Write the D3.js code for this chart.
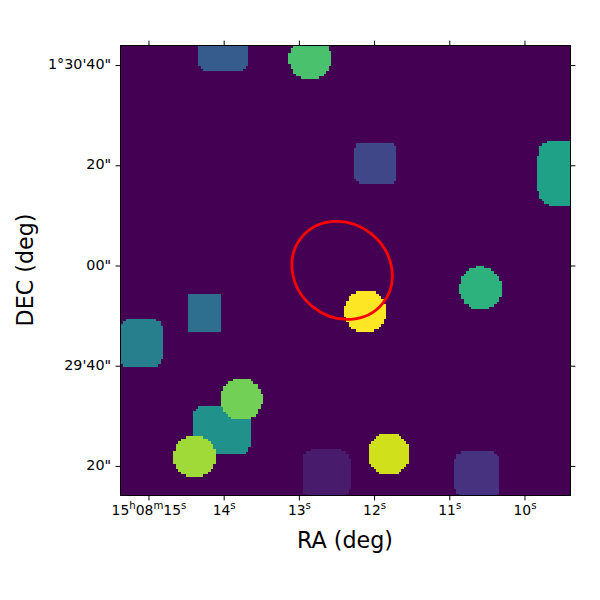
<!DOCTYPE html>
<html>
<head>
<meta charset="utf-8">
<script src="https://cdn.jsdelivr.net/npm/d3@7"></script>
<style>
body { margin: 0; background: #fff; }
text { font-family: "DejaVu Sans", sans-serif; fill: #000; }
</style>
</head>
<body>
<div id="chart"></div>
<script>
// Tick positions: RA in seconds past 15h08m, DEC in arcsec from 1d30m00s
var raTicks = [15, 14, 13, 12, 11, 10];
var raTickLabels = ['15h08m15s', '14s', '13s', '12s', '11s', '10s'];
var decTicks = [40, 20, 0, -20, -40];
var decTickLabels = ['1°30\'40"', '20"', '00"', '29\'40"', '20"'];

// Segmentation map sources, label order is the draw order
var sourceLabel = [1, 2, 3, 4, 5, 6, 7, 8, 9, 10, 11, 12, 13, 14];
var sourceRa = [12.633, 10.632, 11.981, 14.003, 14.249, 15.1, 14.023, 9.382, 10.585, 12.852, 13.763, 14.388, 11.802, 12.115];
var sourceDec = [-41.6, -41.8, 20.46, 43.8, -9.38, -15.47, -32.83, 18.46, -4.49, 41.4, -26.65, -38.12, -37.62, -9.08];
var sourceHalfW = [4.7, 4.4, 4.3, 4.9, 3.4, 4.2, 5.6, 6.6, 4.2, 4.2, 4.2, 4.2, 4.2, 4.2];
var sourceHalfH = [4.8, 4.6, 4.0, 4.9, 3.7, 4.7, 4.9, 6.4, 4.2, 4.2, 4.2, 4.2, 4.2, 4.2];
var sourceCorner = [2, 2, 1.6, 1.8, 0.6, 1.8, 2, 2.8, 4.2, 4.2, 4.2, 4.2, 4.2, 4.2];

// Red region: centre, semi axes (arcsec), tilt (deg)
var regionRa = 12.425;
var regionDec = -0.98;
var regionA = 10.43;
var regionB = 9.34;
var regionAngle = 38.7;

var raLeft = 15.372, raRight = 9.388;
var decTop = 43.9, decBottom = -45.9;
var pixelScale = 0.5; // arcsec per image pixel
var nPix = 180;

var svg = d3.select('#chart').append('svg')
    .attr('width', 600)
    .attr('height', 600);

var x = d3.scaleLinear().domain([raLeft, raRight]).range([120.5, 570.5]);
var y = d3.scaleLinear().domain([decTop, decBottom]).range([45.5, 495.5]);
var color = d3.scaleSequential(d3.interpolateViridis).domain([0, 14]);

svg.append('clipPath').attr('id', 'frame')
    .append('rect')
    .attr('x', x(raLeft)).attr('y', y(decTop))
    .attr('width', x(raRight) - x(raLeft))
    .attr('height', y(decBottom) - y(decTop));

var plot = svg.append('g').attr('clip-path', 'url(#frame)');

// background of the map is label 0
plot.append('rect')
    .attr('x', x(raLeft)).attr('y', y(decTop))
    .attr('width', x(raRight) - x(raLeft))
    .attr('height', y(decBottom) - y(decTop))
    .attr('fill', color(0));

function insideSource(i, dx, dy) {
    var w = sourceHalfW[i], h = sourceHalfH[i], c = sourceCorner[i];
    var ax = Math.abs(dx), ay = Math.abs(dy);
    if (ax > w || ay > h) return false;
    var ox = ax - (w - c), oy = ay - (h - c);
    if (ox <= 0 || oy <= 0) return true;
    return ox * ox + oy * oy <= c * c;
}

// Rasterize sources on the image grid, merging each row into runs
var runs = [];
sourceLabel.forEach(function (label, i) {
    d3.range(nPix).forEach(function (row) {
        var dec = decTop - (row + 0.5) * pixelScale;
        var start = -1;
        d3.range(nPix + 1).forEach(function (col) {
            var ra = raLeft - (col + 0.5) * pixelScale / 15;
            var hit = col < nPix && insideSource(i, (ra - sourceRa[i]) * 15, dec - sourceDec[i]);
            if (hit && start < 0) start = col;
            if (!hit && start >= 0) {
                runs.push({ label: label, row: row, start: start, end: col });
                start = -1;
            }
        });
    });
});

plot.selectAll('rect.cell')
    .data(runs)
    .enter().append('rect')
    .attr('class', 'cell')
    .attr('shape-rendering', 'crispEdges')
    .attr('x', function (d) { return x(raLeft - d.start * pixelScale / 15); })
    .attr('y', function (d) { return y(decTop - d.row * pixelScale); })
    .attr('width', function (d) { return x(raLeft - d.end * pixelScale / 15) - x(raLeft - d.start * pixelScale / 15); })
    .attr('height', y(decTop - pixelScale) - y(decTop) + 0.5)
    .attr('fill', function (d) { return color(d.label); });

// Red ellipse
svg.append('ellipse')
    .attr('cx', x(regionRa))
    .attr('cy', y(regionDec))
    .attr('rx', y(decTop - regionA) - y(decTop))
    .attr('ry', y(decTop - regionB) - y(decTop))
    .attr('transform', 'rotate(' + regionAngle + ' ' + x(regionRa) + ' ' + y(regionDec) + ')')
    .attr('fill', 'none')
    .attr('stroke', '#ff0000')
    .attr('stroke-width', 2.8);

// Axes on all four sides, labels only bottom and left
function styleAxis(g) {
    g.selectAll('.domain').remove();
    g.selectAll('.tick line').attr('stroke', '#000').attr('stroke-width', 1);
    g.selectAll('.tick text').attr('font-size', 13.9);
}

var raLabel = d3.scaleOrdinal().domain(raTicks).range(raTickLabels);
var decLabel = d3.scaleOrdinal().domain(decTicks).range(decTickLabels);

var bottom = svg.append('g')
    .attr('transform', 'translate(0,' + y(decBottom) + ')')
    .call(d3.axisBottom(x).tickValues(raTicks).tickSize(4.9).tickPadding(4.5).tickFormat(function () { return ''; }))
    .call(styleAxis);

// h, m and s are raised like the original tick labels
bottom.selectAll('.tick text').each(function (d) {
    var t = d3.select(this);
    var parts = raLabel(d).match(/\d+|[hms]/g);
    parts.forEach(function (p, i) {
        var unit = /[hms]/.test(p);
        var prevUnit = i > 0 && /[hms]/.test(parts[i - 1]);
        var span = t.append('tspan').text(p);
        if (unit) span.attr('font-size', 10.2).attr('dy', -5.5);
        else if (prevUnit) span.attr('dy', 5.5);
    });
});

svg.append('g')
    .attr('transform', 'translate(0,' + y(decTop) + ')')
    .call(d3.axisTop(x).tickValues(raTicks).tickSize(4.9).tickFormat(function () { return ''; }))
    .call(styleAxis);

svg.append('g')
    .attr('transform', 'translate(' + x(raLeft) + ',0)')
    .call(d3.axisLeft(y).tickValues(decTicks).tickSize(4.9).tickPadding(4.5).tickFormat(function (d) { return decLabel(d); }))
    .call(styleAxis)
    .selectAll('.tick text').attr('font-size', 14.3).attr('dy', '0.25em');

svg.append('g')
    .attr('transform', 'translate(' + x(raRight) + ',0)')
    .call(d3.axisRight(y).tickValues(decTicks).tickSize(4.9).tickFormat(function () { return ''; }))
    .call(styleAxis);

// Frame
svg.append('rect')
    .attr('x', x(raLeft)).attr('y', y(decTop))
    .attr('width', x(raRight) - x(raLeft))
    .attr('height', y(decBottom) - y(decTop))
    .attr('fill', 'none')
    .attr('stroke', '#000')
    .attr('stroke-width', 1);

svg.append('text')
    .attr('x', 345).attr('y', 547.5)
    .attr('text-anchor', 'middle')
    .attr('font-size', 22.2)
    .text('RA (deg)');

svg.append('text')
    .attr('transform', 'translate(32.5,270) rotate(-90)')
    .attr('text-anchor', 'middle')
    .attr('font-size', 22.2)
    .text('DEC (deg)');
</script>
</body>
</html>
